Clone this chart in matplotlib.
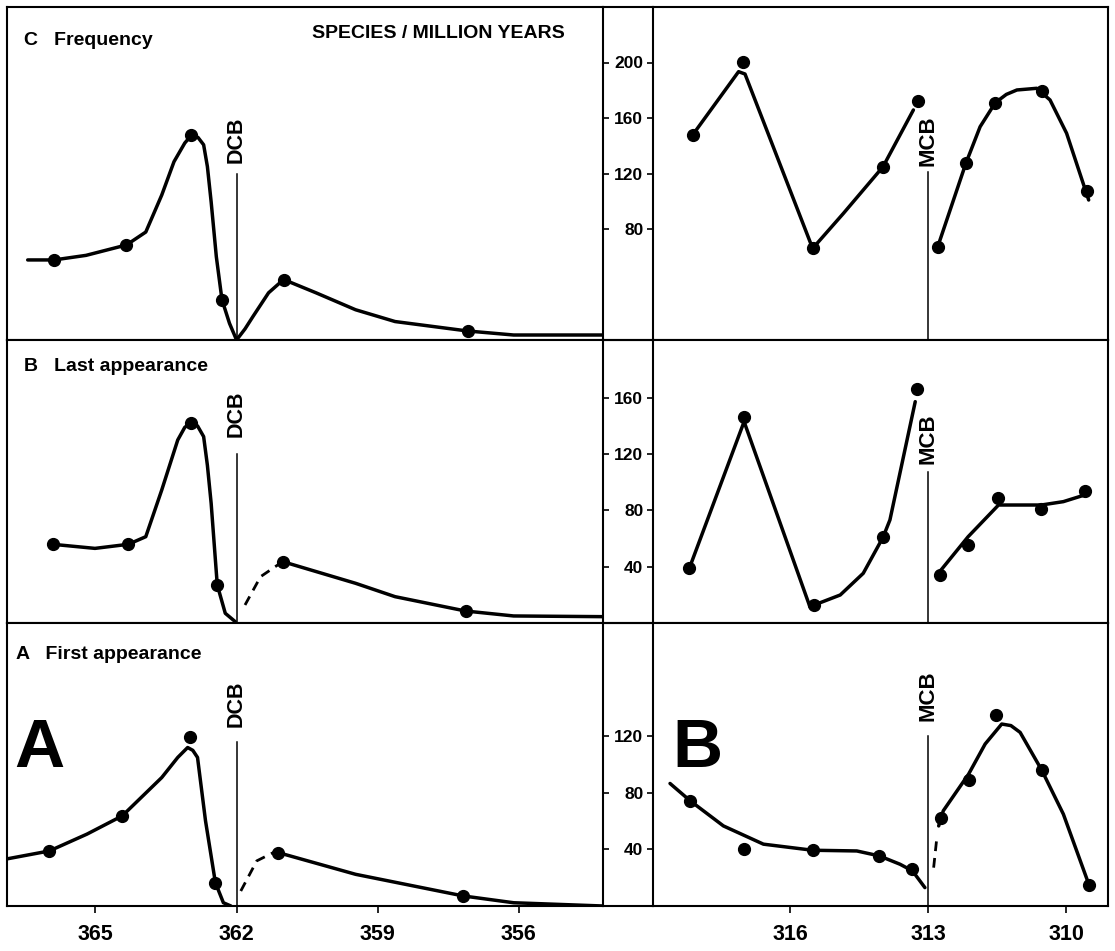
import matplotlib
matplotlib.use("Agg")
import matplotlib.pyplot as plt
from matplotlib.lines import Line2D

NARROW = ["Liberation Sans Narrow", "Liberation Sans", "DejaVu Sans"]
WIDE = ["Liberation Sans", "DejaVu Sans"]

# ---- data (Ma, species / million years) ----
# left column: Devonian-Carboniferous boundary (DCB)
fq_dev_pts_x = [365.88, 364.34, 362.96, 362.31, 361.0, 357.09]
fq_dev_pts_y = [57.7, 68.5, 147.5, 29, 43.6, 6.5]
fq_dev_line_x = [366.44, 365.88, 365.2, 364.34, 363.93, 363.59, 363.33, 363.1, 362.96,
                 362.82, 362.70, 362.62, 362.54, 362.43, 362.31, 362.15, 362.0, 361.82,
                 361.65, 361.32, 361.0, 360.31, 359.47, 358.63, 357.09, 356.11, 354.21]
fq_dev_line_y = [57.7, 57.7, 61, 68.5, 77.8, 104.5, 128.5, 142, 147.5,
                 146, 140.7, 125, 99.5, 60, 29, 12, 0, 8,
                 17, 34, 43.6, 34, 21.8, 13.3, 6.5, 3.6, 3.6]

la_dev_pts_x = [365.91, 364.30, 362.96, 362.41, 361.02, 357.13]
la_dev_pts_y = [55.9, 55.9, 142.3, 27, 43.6, 8.5]
la_dev_line1_x = [365.91, 365.01, 364.30, 363.93, 363.59, 363.25, 363.1, 362.96, 362.83,
                  362.70, 362.62, 362.54, 362.41, 362.24, 362.03]
la_dev_line1_y = [55.9, 53, 55.9, 61.3, 94.5, 130, 139, 142.3, 140,
                  132.4, 112, 85, 27, 6.9, 1]
la_dev_dash_x = [361.82, 361.49, 361.02]
la_dev_dash_y = [12.8, 32.9, 43.6]
la_dev_line2_x = [361.02, 359.47, 358.63, 357.13, 356.11, 354.21]
la_dev_line2_y = [43.6, 28.2, 18.7, 8.5, 5, 4.5]

fa_dev_pts_x = [365.98, 364.43, 363.0, 362.45, 361.11, 357.18]
fa_dev_pts_y = [38.9, 63.7, 119.2, 16.5, 37.7, 7.1]
fa_dev_line1_x = [366.88, 365.98, 365.18, 364.43, 363.59, 363.25, 363.04, 362.93, 362.83,
                  362.66, 362.45, 362.28, 362.12]
fa_dev_line1_y = [33.3, 38.9, 50.8, 63.7, 90.8, 105, 112, 110, 105,
                  60.2, 16.5, 2.3, 0]
fa_dev_dash_x = [361.91, 361.57, 361.15]
fa_dev_dash_y = [10.6, 31.9, 38.9]
fa_dev_line2_x = [361.11, 359.47, 357.18, 356.11, 354.21]
fa_dev_line2_y = [37.7, 22.4, 7.1, 2.3, 0]

# right column: mid-Carboniferous boundary (MCB)
fq_carb_pts_x = [318.12, 317.03, 315.51, 313.98, 313.23, 312.79, 312.18, 311.54, 310.53, 309.55]
fq_carb_pts_y = [147.7, 200.6, 66, 124.9, 172.5, 67.3, 127.3, 171, 179.5, 107.6]
fq_carb_line1_x = [318.12, 317.12, 316.98, 315.51, 314.84, 313.98, 313.32]
fq_carb_line1_y = [147.7, 193.4, 191.7, 66, 91.3, 124.9, 165.8]
fq_carb_line2_x = [312.79, 312.18, 311.87, 311.54, 311.3, 311.07, 310.64, 310.35, 309.99, 309.51]
fq_carb_line2_y = [67.3, 127.3, 153.7, 171, 177, 180.2, 181.4, 173, 149, 100.9]

la_carb_pts_x = [318.19, 317.0, 315.48, 313.98, 313.25, 312.75, 312.13, 311.49, 310.54, 309.59]
la_carb_pts_y = [38.9, 146.6, 12.8, 60.9, 166, 34.1, 55.4, 88.6, 81, 94]
la_carb_line1_x = [318.19, 317.0, 315.57, 314.91, 314.41, 313.98, 313.83, 313.28]
la_carb_line1_y = [38.9, 143, 11.6, 19.9, 35.3, 60.9, 73.2, 157.2]
la_carb_line2_x = [312.75, 312.13, 311.47, 310.54, 310.06, 309.59]
la_carb_line2_y = [36.4, 61.3, 83.8, 83.8, 86.2, 91]

fa_carb_pts_x = [318.17, 317.01, 315.51, 314.06, 313.34, 312.72, 312.12, 311.52, 310.53, 309.51]
fa_carb_pts_y = [74.3, 40.6, 39.4, 35.4, 26, 62.5, 89, 135, 96, 14.9]
fa_carb_line1_x = [318.61, 318.17, 317.45, 316.58, 315.51, 314.55, 314.06, 313.61, 313.34, 313.07]
fa_carb_line1_y = [86.6, 74.3, 56.6, 43.7, 39.4, 38.9, 35.4, 29.5, 24.8, 13]
fa_carb_dash_x = [312.88, 312.81]
fa_carb_dash_y = [27.1, 48.4]
fa_carb_line2_x = [312.77, 312.67, 312.12, 311.76, 311.40, 311.2, 311.0, 310.53, 310.06, 309.51]
fa_carb_line2_y = [56.6, 67.3, 93.2, 114.5, 128.6, 127.5, 122.7, 96, 64.9, 15.6]

dev_ticks = [365, 362, 359, 356]
carb_ticks = [316, 313, 310]
row_yticks = [[80, 120, 160, 200], [40, 80, 120, 160], [40, 80, 120]]
row_ylim = [240, 201, 200]
dcb_top = [120, 120, 115.6]
dcb_label_y = [144, 148.8, 142.7]
mcb_top = [121.3, 107.5, 120.4]
mcb_label_y = [143.4, 130.7, 148.7]

# ---- layout (pixels of a 1115 x 951 canvas) ----
W, H = 1115, 951
rows_px = [(7, 340), (340, 623), (623, 906)]
left_px = (7, 603)
right_px = (653, 1108)

fig = plt.figure(figsize=(W / 100, H / 100), dpi=100)
fig.patch.set_facecolor("white")

LW_SPINE = 1.5
LW_CURVE = 2.5
MS = 8.5


def frame(ax):
    for s in ax.spines.values():
        s.set_linewidth(LW_SPINE)
        s.set_color("black")


axes = []
for i, (top, bot) in enumerate(rows_px):
    y0 = 1 - bot / H
    h = (bot - top) / H
    axl = fig.add_axes([left_px[0] / W, y0, (left_px[1] - left_px[0]) / W, h])
    axr = fig.add_axes([right_px[0] / W, y0, (right_px[1] - right_px[0]) / W, h])
    for ax in (axl, axr):
        frame(ax)
        ax.set_ylim(0, row_ylim[i])
        ax.set_yticks(row_yticks[i])
    axl.set_xlim(366.88, 354.21)
    axr.set_xlim(318.98, 309.09)
    # left panel: small outward ticks on its right edge, no labels
    axl.yaxis.tick_right()
    axl.tick_params(axis="y", direction="out", length=4, width=1.2, labelright=False)
    axr.tick_params(axis="y", direction="out", length=4, width=1.2, pad=3)
    for lab in axr.get_yticklabels():
        lab.set_fontfamily(WIDE)
        lab.set_fontweight("bold")
        lab.set_fontsize(12.5)
    if i < 2:
        axl.set_xticks([])
        axr.set_xticks([])
    else:
        axl.set_xticks(dev_ticks)
        axr.set_xticks(carb_ticks)
        for ax in (axl, axr):
            ax.tick_params(axis="x", direction="out", length=5, width=1.2, pad=8)
            for lab in ax.get_xticklabels():
                lab.set_fontfamily(NARROW)
                lab.set_fontweight("bold")
                lab.set_fontsize(15.5)
    # horizontal rules across the strip between the two columns
    for ypx in (top, bot):
        fig.add_artist(Line2D([left_px[1] / W, right_px[0] / W], [1 - ypx / H, 1 - ypx / H],
                              color="black", lw=LW_SPINE))
    axes.append((axl, axr))


def curve(ax, x, y, dashed=False):
    ax.plot(x, y, color="black", lw=LW_CURVE if not dashed else 2.0,
            ls=(0, (3.5, 2.5)) if dashed else "-", solid_capstyle="round",
            solid_joinstyle="round", zorder=3)


def dots(ax, x, y):
    ax.plot(x, y, "o", color="black", ms=MS, zorder=4)


# row 0 : frequency
axl, axr = axes[0]
curve(axl, fq_dev_line_x, fq_dev_line_y)
dots(axl, fq_dev_pts_x, fq_dev_pts_y)
curve(axr, fq_carb_line1_x, fq_carb_line1_y)
curve(axr, fq_carb_line2_x, fq_carb_line2_y)
dots(axr, fq_carb_pts_x, fq_carb_pts_y)

# row 1 : last appearance
axl, axr = axes[1]
curve(axl, la_dev_line1_x, la_dev_line1_y)
curve(axl, la_dev_dash_x, la_dev_dash_y, dashed=True)
curve(axl, la_dev_line2_x, la_dev_line2_y)
dots(axl, la_dev_pts_x, la_dev_pts_y)
curve(axr, la_carb_line1_x, la_carb_line1_y)
curve(axr, la_carb_line2_x, la_carb_line2_y)
dots(axr, la_carb_pts_x, la_carb_pts_y)

# row 2 : first appearance
axl, axr = axes[2]
curve(axl, fa_dev_line1_x, fa_dev_line1_y)
curve(axl, fa_dev_dash_x, fa_dev_dash_y, dashed=True)
curve(axl, fa_dev_line2_x, fa_dev_line2_y)
dots(axl, fa_dev_pts_x, fa_dev_pts_y)
curve(axr, fa_carb_line1_x, fa_carb_line1_y)
curve(axr, fa_carb_dash_x, fa_carb_dash_y, dashed=True)
curve(axr, fa_carb_line2_x, fa_carb_line2_y)
dots(axr, fa_carb_pts_x, fa_carb_pts_y)

# boundary markers
for i, (axl, axr) in enumerate(axes):
    axl.plot([362, 362], [0, dcb_top[i]], color="black", lw=1.1, zorder=2)
    axl.text(362, dcb_label_y[i], "DCB", rotation=90, ha="center", va="center",
             fontfamily=WIDE, fontweight="bold", fontsize=15.5)
    axr.plot([313, 313], [0, mcb_top[i]], color="black", lw=1.1, zorder=2)
    axr.text(313, mcb_label_y[i], "MCB", rotation=90, ha="center", va="center",
             fontfamily=WIDE, fontweight="bold", fontsize=16)

# panel titles
title_kw = dict(fontfamily=NARROW, fontweight="bold", fontsize=14, va="center", ha="left")
axes[0][0].text(0.0285, 0.898, "C   Frequency", transform=axes[0][0].transAxes, **title_kw)
axes[0][0].text(0.723, 0.919, "SPECIES / MILLION YEARS", transform=axes[0][0].transAxes,
                fontfamily=NARROW, fontweight="bold", fontsize=14, va="center", ha="center")
axes[1][0].text(0.0285, 0.908, "B   Last appearance", transform=axes[1][0].transAxes, **title_kw)
axes[2][0].text(0.015, 0.89, "A   First appearance", transform=axes[2][0].transAxes, **title_kw)

# big part letters
axes[2][0].text(0.0117, 0.491, "A", transform=axes[2][0].transAxes, fontfamily=NARROW,
                fontweight="bold", fontsize=50, va="baseline", ha="left")
axes[2][1].text(0.042, 0.491, "B", transform=axes[2][1].transAxes, fontfamily=NARROW,
                fontweight="bold", fontsize=50, va="baseline", ha="left")

fig.savefig("out.png", dpi=100, facecolor="white")
